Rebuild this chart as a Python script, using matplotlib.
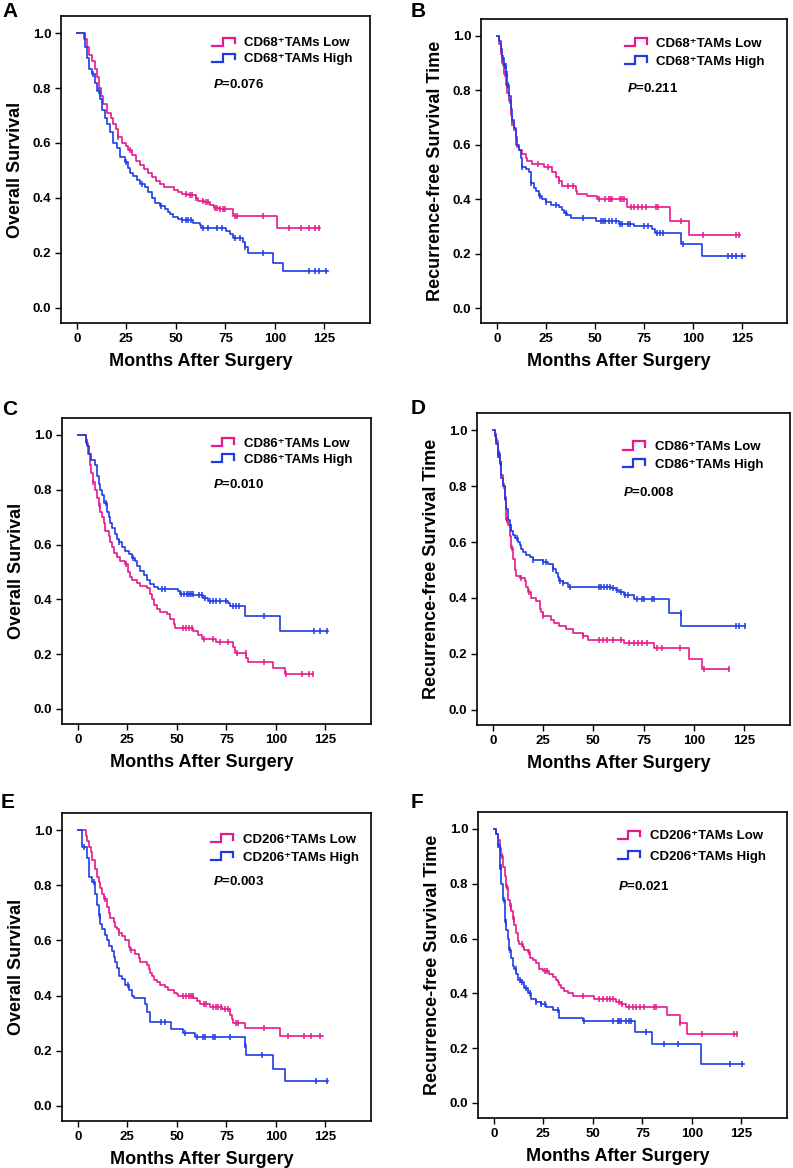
import matplotlib.pyplot as plt
import numpy as np
from matplotlib.legend_handler import HandlerBase
from matplotlib.lines import Line2D

plt.rcParams['font.family'] = ['Liberation Sans', 'DejaVu Sans']
plt.rcParams['font.weight'] = 'bold'
plt.rcParams['mathtext.fontset'] = 'custom'
plt.rcParams['mathtext.it'] = 'Liberation Sans:italic:bold'
plt.rcParams['mathtext.rm'] = 'Liberation Sans:bold'

LOW_COLOR = '#e6198c'
HIGH_COLOR = '#1e3ce6'

# ---- Kaplan-Meier step data (months, survival) ----
# A: CD68, overall survival
a_low_t = [0, 3.5, 5, 6, 7.5, 9, 10, 11, 12, 13, 15, 17, 18.5, 20, 21, 23, 25, 26, 28, 30,
           32, 34, 36, 38, 40, 42, 44, 49, 51, 53, 56, 60, 61, 64, 67, 69, 72, 79, 101, 123]
a_low_s = [1.0, 0.98, 0.95, 0.92, 0.90, 0.87, 0.84, 0.80, 0.77, 0.74, 0.71, 0.69, 0.67, 0.65, 0.62,
           0.60, 0.59, 0.575, 0.555, 0.535, 0.52, 0.505, 0.49, 0.475, 0.46, 0.45, 0.44, 0.43, 0.42,
           0.415, 0.41, 0.40, 0.39, 0.385, 0.375, 0.365, 0.36, 0.333, 0.29, 0.29]
a_low_cens = [21, 27, 55, 57, 58, 60, 63.5, 65, 66, 70, 71, 72.5, 74, 75, 80, 81, 94,
              107, 113, 117, 120, 122.5]
a_high_t = [0, 4.2, 5, 5.9, 7.6, 9.2, 10, 11.5, 12.6, 14.3, 15.1, 16.8, 18.5, 20.1, 21.8, 24.3,
            26, 26.8, 28.5, 30.2, 31.9, 34.4, 36.1, 37.8, 39.4, 41.9, 44.5, 46.1, 47, 48.7, 51.2,
            52.9, 58.7, 62.1, 62.9, 75.5, 77.2, 78.9, 83.9, 84.7, 86.4, 99, 104, 126.7]
a_high_s = [1.0, 0.95, 0.91, 0.87, 0.85, 0.82, 0.79, 0.76, 0.72, 0.69, 0.67, 0.64, 0.60, 0.58,
            0.55, 0.53, 0.51, 0.49, 0.48, 0.465, 0.45, 0.44, 0.42, 0.40, 0.38, 0.37, 0.36, 0.35,
            0.34, 0.33, 0.325, 0.32, 0.31, 0.30, 0.29, 0.28, 0.27, 0.255, 0.24, 0.22, 0.20,
            0.165, 0.133, 0.133]
a_high_cens = [8, 11, 25, 33, 42.7, 53, 55, 56, 57.5, 63.8, 66.4, 70.6, 73.2, 79.7, 82.4, 85,
               94, 117.4, 120, 122.5, 125.8]

# B: CD68, recurrence-free survival
b_low_t = [0, 1.2, 2, 2.9, 3.7, 4.6, 5.4, 6.3, 7.1, 8, 8.8, 9.7, 10.5, 11.4, 13, 14.8, 15.6,
           18.1, 24.1, 28.3, 30, 31.7, 33.4, 40.2, 41, 46.1, 51.2, 66.5, 88.5, 97.9, 124.2]
b_low_s = [1.0, 0.97, 0.94, 0.90, 0.86, 0.82, 0.79, 0.76, 0.71, 0.68, 0.655, 0.60, 0.59, 0.58,
           0.565, 0.55, 0.54, 0.53, 0.52, 0.50, 0.48, 0.465, 0.45, 0.43, 0.42, 0.41, 0.40,
           0.37, 0.32, 0.267, 0.267]
b_low_cens = [2, 3, 4, 5, 7, 8, 21, 26, 32, 36.5, 39, 52, 55, 57, 58, 59, 63, 64, 65, 68.5,
              70, 72, 74, 76, 81, 82, 94, 105, 122, 123.5]
b_high_t = [0, 1.2, 2, 2.9, 3.7, 4.6, 5.4, 6.3, 7.1, 8, 8.8, 9.7, 10.5, 11.4, 12.2, 12.7, 14.8,
            16.5, 17.3, 19, 19.8, 21.5, 23.2, 24.9, 27.5, 31.7, 33.4, 34.3, 36, 37.7, 50.4, 62.2,
            69.9, 79.2, 80.9, 94.1, 104.6, 126.7]
b_high_s = [1.0, 0.98, 0.95, 0.92, 0.89, 0.86, 0.82, 0.78, 0.73, 0.69, 0.66, 0.63, 0.60, 0.58,
            0.55, 0.52, 0.51, 0.50, 0.46, 0.44, 0.43, 0.41, 0.40, 0.39, 0.38, 0.37, 0.36, 0.35,
            0.34, 0.33, 0.32, 0.31, 0.30, 0.29, 0.275, 0.235, 0.19, 0.19]
b_high_cens = [3, 4, 4.5, 5, 6, 12.8, 17.5, 22, 25, 30, 35.5, 44, 53, 54, 55, 57, 59, 61, 63,
               64, 67, 68, 75, 77, 81.5, 83, 85, 95, 118, 120, 122, 125]

# C: CD86, overall survival
c_low_t = [0, 3.9, 5, 6, 6.7, 7.7, 8.9, 9.7, 10.6, 11.4, 12.2, 13.1, 13.9, 15.6, 16.4, 17.3,
           18.1, 19.8, 21.4, 24, 25.3, 26.1, 27.3, 29.8, 31.5, 34.9, 36.5, 37.4, 38.2, 39.9,
           41.6, 44.9, 46.6, 48.3, 49.1, 58.3, 60.8, 62.5, 70, 78.4, 79.3, 85.1, 86, 98.5,
           104.4, 118.6]
c_low_s = [1.0, 0.97, 0.93, 0.89, 0.86, 0.83, 0.80, 0.77, 0.74, 0.72, 0.70, 0.68, 0.65, 0.63,
           0.61, 0.59, 0.57, 0.555, 0.54, 0.53, 0.50, 0.48, 0.47, 0.46, 0.45, 0.44, 0.42, 0.40,
           0.38, 0.365, 0.355, 0.345, 0.33, 0.31, 0.295, 0.285, 0.27, 0.255, 0.245, 0.225,
           0.205, 0.185, 0.17, 0.15, 0.128, 0.128]
c_low_cens = [7.7, 11, 24.5, 53, 54.5, 56, 57.5, 63.5, 68, 72, 76, 80.5, 85, 94, 105, 113,
              116.5, 118.6]
c_high_t = [0, 3.9, 4.7, 5.5, 6.4, 8.9, 9.7, 10.6, 11.4, 12.2, 13.1, 14.7, 15.6, 16.4, 17.3,
            18.9, 19.8, 20.6, 22.3, 24, 25.6, 27.3, 29, 29.8, 31.5, 33.2, 34.9, 36.5, 38.2, 40.7,
            50.8, 51.6, 58.3, 63.3, 65.9, 75.9, 76.7, 84.3, 101.9, 126.2]
c_high_s = [1.0, 0.975, 0.96, 0.93, 0.91, 0.89, 0.85, 0.82, 0.80, 0.78, 0.75, 0.72, 0.70, 0.68,
            0.66, 0.64, 0.62, 0.61, 0.59, 0.575, 0.565, 0.55, 0.54, 0.52, 0.505, 0.49, 0.47,
            0.455, 0.445, 0.437, 0.43, 0.42, 0.415, 0.405, 0.395, 0.385, 0.375, 0.34, 0.283,
            0.283]
c_high_cens = [4.5, 14, 21, 28, 42.5, 44, 52, 53.5, 55, 56, 57, 58, 61, 62.5, 64, 66.5, 68, 70,
               72, 75, 78.5, 80, 81.5, 94, 119, 122.5, 126]

# D: CD86, recurrence-free survival
d_low_t = [0, 0.8, 1.7, 2.5, 3.3, 4.1, 5, 5.8, 6.6, 7.5, 8.3, 9.1, 9.9, 10.8, 11.6, 13.2, 15.7,
           16.6, 17.4, 19, 21.5, 23.2, 24, 24.8, 29, 30.6, 33.1, 36.4, 39.7, 44.7, 47.2, 65.4,
           80.3, 97.7, 104.3, 117.5]
d_low_s = [1.0, 0.98, 0.96, 0.92, 0.88, 0.84, 0.80, 0.75, 0.68, 0.66, 0.62, 0.58, 0.54, 0.50,
           0.48, 0.47, 0.46, 0.44, 0.42, 0.40, 0.39, 0.36, 0.35, 0.335, 0.32, 0.31, 0.30, 0.29,
           0.275, 0.265, 0.25, 0.24, 0.22, 0.18, 0.145, 0.145]
d_low_cens = [2, 3, 4, 5.5, 7, 9.5, 14, 18, 25, 45, 53, 55, 57, 60, 64, 68, 70, 72, 74, 76.5,
              81.5, 84, 93, 105, 117.5]
d_high_t = [0, 0.8, 1.7, 2.5, 3.3, 4.1, 5, 5.8, 6.6, 7.5, 8.3, 9.1, 9.9, 10.8, 12.4, 13.2, 14.1,
            14.9, 16.6, 18.2, 19.9, 24.8, 27.3, 29.8, 31.5, 32.3, 33.1, 34.8, 37.3, 58.8, 61.3,
            62.9, 65.4, 70.4, 87.7, 93.9, 125.8]
d_high_s = [1.0, 0.98, 0.95, 0.91, 0.88, 0.83, 0.80, 0.76, 0.72, 0.68, 0.655, 0.64, 0.625, 0.615,
            0.60, 0.59, 0.575, 0.565, 0.555, 0.545, 0.535, 0.53, 0.52, 0.505, 0.49, 0.475, 0.46,
            0.455, 0.44, 0.435, 0.43, 0.42, 0.41, 0.395, 0.345, 0.30, 0.30]
d_high_cens = [1.5, 2.5, 3, 4, 6, 9, 12, 20, 25, 26.5, 30, 33.5, 35, 38.5, 53, 54, 55.5, 57,
               58.5, 60, 62, 64, 66, 67.5, 71.5, 74, 75, 79, 80, 93.5, 121, 122.5, 125.8]

# E: CD206, overall survival
e_low_t = [0, 3.9, 4.7, 5.5, 6.4, 7.2, 8.9, 9.7, 10.6, 11.4, 12.2, 13.1, 14.7, 15.6, 16.4, 18.1,
           18.9, 19.8, 20.6, 22.3, 24, 25.6, 26.5, 29, 30.7, 31.5, 34.9, 35.7, 36.5, 37.4, 38.2,
           39.9, 41.6, 44.1, 45.7, 48.3, 49.9, 50.8, 58.3, 60, 61.7, 66.7, 72.6, 76.7, 77.6,
           78.4, 84.3, 101.9, 123.7]
e_low_s = [1.0, 0.98, 0.96, 0.94, 0.92, 0.89, 0.86, 0.83, 0.81, 0.79, 0.77, 0.75, 0.72, 0.70,
           0.68, 0.665, 0.65, 0.64, 0.625, 0.615, 0.60, 0.575, 0.565, 0.55, 0.535, 0.52, 0.51,
           0.495, 0.48, 0.47, 0.455, 0.45, 0.44, 0.43, 0.42, 0.41, 0.405, 0.40, 0.39, 0.38, 0.37,
           0.36, 0.35, 0.33, 0.315, 0.30, 0.283, 0.255, 0.255]
e_low_cens = [13.5, 21, 27, 53, 54.5, 56, 57, 58, 63.5, 64.5, 68, 69.5, 71, 72.5, 74.5, 76, 80,
              81, 94, 106, 114, 117.5, 122.5]
e_high_t = [0, 2.2, 4.7, 5.5, 7.2, 8.9, 9.7, 10.6, 11.4, 12.2, 13.9, 14.7, 15.6, 17.3, 18.1,
            18.9, 19.8, 20.6, 22.3, 24, 25.6, 27.3, 28.2, 34, 34.9, 36.5, 46.9, 53.3, 59.1, 84.3,
            85.1, 98.5, 104.4, 126.2]
e_high_s = [1.0, 0.94, 0.90, 0.83, 0.81, 0.77, 0.73, 0.69, 0.66, 0.64, 0.62, 0.60, 0.58, 0.56,
            0.54, 0.52, 0.50, 0.47, 0.46, 0.44, 0.42, 0.40, 0.39, 0.37, 0.34, 0.305, 0.28, 0.265,
            0.25, 0.22, 0.185, 0.135, 0.09, 0.09]
e_high_cens = [3, 8, 11, 25.5, 42, 44, 54, 60, 63, 64, 68, 69, 77, 84.5, 93, 120, 126]

# F: CD206, recurrence-free survival
f_low_t = [0, 1.2, 2, 2.9, 3.7, 4.5, 5.4, 6.2, 7, 8.4, 8.7, 9.6, 10.4, 11.2, 12.1, 12.9, 14.6,
           15.4, 17.1, 18, 19.6, 21.3, 23, 24.7, 28, 29.7, 31.4, 32.2, 33.1, 33.9, 35.6, 37.2,
           39.8, 50.7, 61.6, 64.1, 66.6, 87.6, 94, 97.7, 122.8]
f_low_s = [1.0, 0.98, 0.96, 0.93, 0.90, 0.86, 0.83, 0.79, 0.74, 0.72, 0.70, 0.67, 0.65, 0.62,
           0.59, 0.58, 0.57, 0.56, 0.55, 0.53, 0.52, 0.51, 0.49, 0.48, 0.47, 0.46, 0.45, 0.44,
           0.43, 0.42, 0.41, 0.40, 0.39, 0.38, 0.37, 0.36, 0.35, 0.32, 0.29, 0.253, 0.253]
f_low_cens = [3, 4, 6.5, 8.5, 10, 14, 17.5, 26, 27, 45, 53, 55, 57, 58.5, 60, 63, 64.5, 68, 70,
              72, 74, 76, 81, 82, 94, 105, 121, 122.8]
f_high_t = [0, 1.2, 2, 2.9, 3.7, 4.5, 5.4, 6.2, 7, 7.9, 8.7, 9.6, 10.4, 11.2, 12.1, 13.8, 15.4,
            17.1, 18.8, 21.3, 23.8, 26.3, 29.7, 33.1, 44.8, 71.1, 80, 104.4, 126.2]
f_high_s = [1.0, 0.98, 0.94, 0.86, 0.80, 0.74, 0.66, 0.63, 0.60, 0.56, 0.53, 0.50, 0.49, 0.47,
            0.45, 0.44, 0.42, 0.40, 0.38, 0.37, 0.36, 0.35, 0.34, 0.31, 0.30, 0.26, 0.215,
            0.143, 0.143]
f_high_cens = [2, 3, 3.5, 5, 6, 8, 11, 13, 14, 16, 18, 21.5, 24, 26, 32.5, 45.5, 60, 62.5, 63,
               64, 66.5, 68, 69, 77, 86, 93, 119, 125.5]

markers = ['CD68', 'CD68', 'CD86', 'CD86', 'CD206', 'CD206']
p_values = ['0.076', '0.211', '0.010', '0.008', '0.003', '0.021']
ylabels = ['Overall Survival', 'Recurrence-free Survival Time'] * 3
letters = ['A', 'B', 'C', 'D', 'E', 'F']
curves = [
    ((a_low_t, a_low_s, a_low_cens), (a_high_t, a_high_s, a_high_cens)),
    ((b_low_t, b_low_s, b_low_cens), (b_high_t, b_high_s, b_high_cens)),
    ((c_low_t, c_low_s, c_low_cens), (c_high_t, c_high_s, c_high_cens)),
    ((d_low_t, d_low_s, d_low_cens), (d_high_t, d_high_s, d_high_cens)),
    ((e_low_t, e_low_s, e_low_cens), (e_high_t, e_high_s, e_high_cens)),
    ((f_low_t, f_low_s, f_low_cens), (f_high_t, f_high_s, f_high_cens)),
]

# layout in pixels: axes box (left, top, right, bottom), letter position,
# legend anchor and P-value position in axes fraction
W, H = 793, 1168
boxes = [(61, 16, 370, 323), (481, 19, 787, 323),
         (62, 418, 371, 724), (477, 413, 790, 725),
         (62, 813, 371, 1121), (478, 812, 787, 1118)]
letter_pos = [(2, 2), (411, 2), (2, 400), (411, 399), (1, 793), (411, 793)]
legend_pos = [(0.49, 0.933), (0.47, 0.94), (0.485, 0.937), (0.466, 0.912),
              (0.482, 0.935), (0.453, 0.942)]
legend_gap = [0.25, 0.4, 0.25, 0.4, 0.4, 0.6]
p_pos = [(0.492, 0.776), (0.477, 0.772), (0.489, 0.784), (0.466, 0.744),
         (0.489, 0.778), (0.453, 0.757)]
XMIN, XMAX = -8, 148


class StepHandler(HandlerBase):
    # legend glyph drawn as a little survival step, like SPSS does
    def create_artists(self, legend, orig_handle, xdescent, ydescent,
                       width, height, fontsize, trans):
        xs = np.array([0, 0.45, 0.45, 1, 1]) * width - xdescent
        ys = np.array([0.1, 0.1, 0.9, 0.9, 0.35]) * height - ydescent
        line = Line2D(xs, ys, color=orig_handle.get_color(),
                      lw=orig_handle.get_linewidth(), solid_joinstyle='miter')
        line.set_transform(trans)
        return [line]


def draw_km(ax, t, s, cens, color):
    t = np.asarray(t, dtype=float)
    s = np.asarray(s, dtype=float)
    ax.step(t, s, where='post', color=color, lw=1.2)
    c = np.asarray(cens, dtype=float)
    idx = np.clip(np.searchsorted(t, c, side='right') - 1, 0, len(s) - 1)
    ax.plot(c, s[idx], linestyle='none', marker='|', ms=4.5, mew=1.1, color=color)


fig = plt.figure(figsize=(W / 100, H / 100), dpi=100)

for i in range(6):
    l, t0, r, b = boxes[i]
    ax = fig.add_axes([l / W, 1 - b / H, (r - l) / W, (b - t0) / H])
    low, high = curves[i]
    draw_km(ax, *low, LOW_COLOR)
    draw_km(ax, *high, HIGH_COLOR)

    ax.set_xlim(XMIN, XMAX)
    ax.set_ylim(-0.055, 1.062)
    ax.set_xticks([0, 25, 50, 75, 100, 125])
    ax.set_yticks(np.arange(0, 1.01, 0.2))
    ax.set_yticklabels([f'{v:.1f}' for v in np.arange(0, 1.01, 0.2)])
    ax.tick_params(direction='out', length=4, width=1, labelsize=9.5, pad=3)
    for sp in ax.spines.values():
        sp.set_linewidth(1.2)
    # SPSS centres the x title under the data range (0-125), not the box
    xcenter = (62.5 - XMIN) / (XMAX - XMIN)
    ax.set_xlabel('Months After Surgery', fontsize=13, fontweight='bold',
                  labelpad=6, x=xcenter, ha='center')
    ax.set_ylabel(ylabels[i], fontsize=13, fontweight='bold', labelpad=6)

    handles = [Line2D([], [], color=LOW_COLOR, lw=1.6),
               Line2D([], [], color=HIGH_COLOR, lw=1.6)]
    labels = [f'{markers[i]}\u207aTAMs Low', f'{markers[i]}\u207aTAMs High']
    ax.legend(handles, labels, handler_map={Line2D: StepHandler()},
              loc='upper left', bbox_to_anchor=legend_pos[i], frameon=False,
              prop={'size': 9.5, 'weight': 'bold'}, handlelength=1.7,
              handleheight=0.8, handletextpad=0.7, labelspacing=legend_gap[i],
              borderpad=0, borderaxespad=0)
    ax.text(p_pos[i][0], p_pos[i][1], r'$P$=' + p_values[i], transform=ax.transAxes,
            fontsize=9.5, fontweight='bold', va='center', ha='left')

    fig.text(letter_pos[i][0] / W, 1 - letter_pos[i][1] / H, letters[i],
             fontsize=15, fontweight='bold', va='top', ha='left')

fig.savefig('out.png', dpi=100)
